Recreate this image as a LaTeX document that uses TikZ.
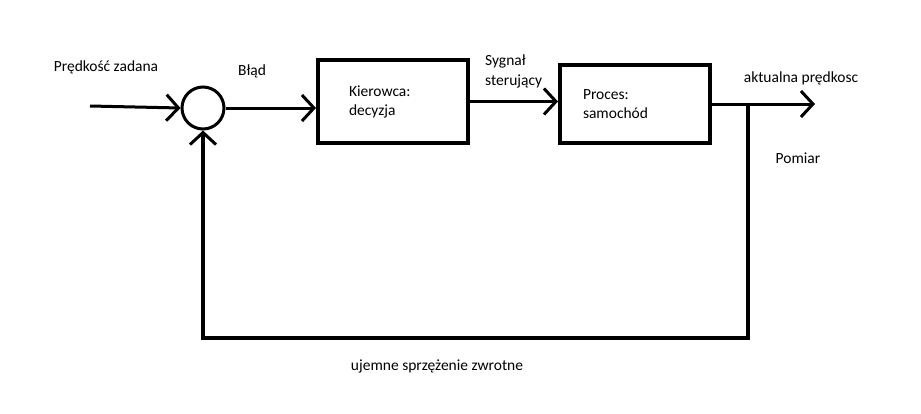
\documentclass[tikz,border=0pt]{standalone}
\usepackage{fontspec}
\setmainfont{Carlito}
\usetikzlibrary{arrows.meta,positioning}
\begin{document}
\begin{tikzpicture}[x=1pt,y=-1pt,
  block/.style={draw,line width=4pt,minimum width=150pt,inner sep=0pt,align=left,font=\fontsize{15.5}{19}\selectfont},
  sumnode/.style={draw,circle,line width=3pt,minimum size=42pt,inner sep=0pt},
  flow/.style={line width=3pt,-{Straight Barb[length=12pt,width=26pt,line width=3pt]}},
  note/.style={font=\fontsize{15.5}{20}\selectfont,inner sep=0pt,align=left}]
\useasboundingbox (0,0) rectangle (921,413);
\node[sumnode] (sum) at (203,108) {};
\node[block,minimum height=83pt,text width=88pt] (driver) at (393,101.5) {Kierowca:\\decyzja};
\node[block,minimum height=78pt,text width=104pt] (process) at (635,104) {Proces:\\samochód};
\coordinate (in) at (90,106);
\coordinate (branch) at (748,104);
\coordinate (out) at (815,104);
\coordinate (fbright) at (748,338);
\coordinate (fbleft) at (203,338);
\draw[flow] (in) -- (sum.west);
\draw[flow] (sum.east) -- (sum.east -| driver.west);
\draw[flow] (driver.east) -- (driver.east -| process.west);
\draw[line width=3pt] (process.east) -- (branch);
\draw[flow] (branch) -- (out);
\draw[flow,line width=4pt] (branch) -- (fbright) -- (fbleft) -- (sum.south);
% texts
\node[note] (setpoint) at (106,67) {Prędkość zadana};
\node[note] (error) at (252,71) {Błąd};
\node[note,anchor=west] (control) at (485,71) {Sygnał\\sterujący};
\node[note] (speed) at (801,78) {aktualna prędkosc};
\node[note] (measure) at (798,158) {Pomiar};
\node[note] (feedback) at (437,366) {ujemne sprzężenie zwrotne};
\end{tikzpicture}
\end{document}
